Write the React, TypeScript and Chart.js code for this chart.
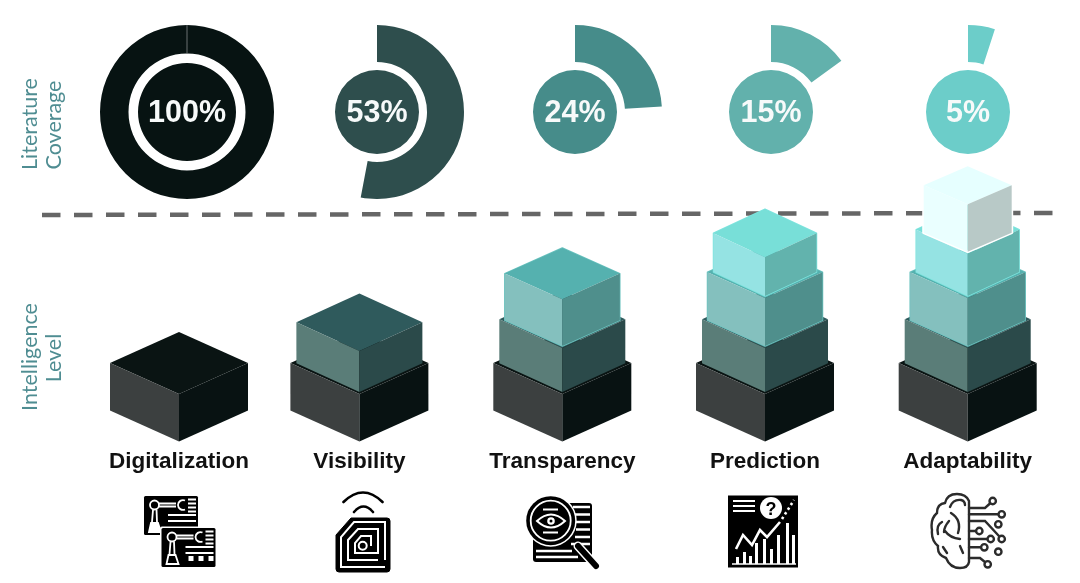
import React, { useEffect, useRef } from "react";
import { Chart, registerables } from "chart.js";

Chart.register(...registerables);

// ---------- data ----------
const categories = ["Digitalization", "Visibility", "Transparency", "Prediction", "Adaptability"];
const coverage = [100, 53, 24, 15, 5];
const level1Heights = [47.5, 47.5, 47.5, 47.5, 47.5];
const level2Heights = [null, 43, 46, 46, 46];
const level3Heights = [null, null, 48.7, 50, 50];
const level4Heights = [null, null, null, 40.7, 44.3];
const level5Heights = [null, null, null, null, 49.4];
const thresholdValues = [226.5, 228.5];

// ---------- layout and style ----------
const W = 1080;
const H = 583;
const BASE_Y = 441.5;
const gaugeCenters = [187, 376.7, 574.7, 771, 968];
const stackCenters = [179, 359.4, 562.3, 765, 967.7];
const thresholdX = [42, 1058];
const coverageColors = ["#071312", "#2e4e4d", "#468c8a", "#62b1ac", "#6ccdc9"];
const ringWeights = [
  [28.5, 9.5, 49],
  [37, 8, 42],
  [37, 8, 42],
  [37, 8, 42],
  [37, 8, 42],
];
const levelStyles = [
  { hw: 69, hd: 31, top: "#0a1413", left: "#3c4040", right: "#081212", stroke: "" },
  { hw: 63, hd: 28.7, top: "#2f5a5c", left: "#5a7d78", right: "#2b4a4a", stroke: "" },
  { hw: 57.5, hd: 25.7, top: "#55b1af", left: "#84c0be", right: "#4f8f8c", stroke: "#6cc4c0" },
  { hw: 51.5, hd: 24, top: "#78dfd8", left: "#95e3e3", right: "#62b3ad", stroke: "#7de4de" },
  { hw: 44, hd: 19, top: "#e6ffff", left: "#eaffff", right: "#b8c9c7", stroke: "#ffffff" },
];
const BLOCK_GAP = 2;
const allLevels = [level1Heights, level2Heights, level3Heights, level4Heights, level5Heights];
const sideTitles = [
  { text: "Literature", x: 30, y: 124 },
  { text: "Coverage", x: 54, y: 125 },
  { text: "Intelligence", x: 30, y: 357 },
  { text: "Level", x: 54, y: 358 },
];

function Gauge({ index }: { index: number }) {
  const ref = useRef<HTMLCanvasElement | null>(null);
  useEffect(() => {
    const pct = coverage[index];
    const color = coverageColors[index];
    const [ringW, gapW, coreW] = ringWeights[index];
    const labelPlugin = {
      id: "gaugeLabel",
      afterDatasetsDraw(chart: any) {
        const { ctx } = chart;
        const ring = chart.getDatasetMeta(0).data[0];
        ctx.save();
        if (pct === 100) {
          ctx.strokeStyle = "#6b7170";
          ctx.lineWidth = 1;
          ctx.beginPath();
          ctx.moveTo(ring.x, ring.y - ring.innerRadius);
          ctx.lineTo(ring.x, ring.y - ring.outerRadius);
          ctx.stroke();
        }
        ctx.fillStyle = "#f7fafa";
        ctx.font = 'bold 30.5px "Liberation Sans"';
        ctx.textAlign = "center";
        ctx.textBaseline = "middle";
        ctx.fillText(`${pct}%`, ring.x, ring.y + 1.5);
        ctx.restore();
      },
    };
    const chart = new Chart(ref.current as HTMLCanvasElement, {
      type: "doughnut",
      data: {
        labels: ["Covered", "Rest"],
        datasets: [
          { data: [pct, 100 - pct], backgroundColor: [color, "rgba(0,0,0,0)"], borderWidth: 0, weight: ringW } as any,
          { data: [100], backgroundColor: ["rgba(0,0,0,0)"], borderWidth: 0, weight: gapW } as any,
          { data: [100], backgroundColor: [color], borderWidth: 0, weight: coreW } as any,
        ],
      },
      options: {
        responsive: false,
        animation: false,
        cutout: 0,
        events: [],
        plugins: { legend: { display: false }, tooltip: { enabled: false } },
      } as any,
      plugins: [labelPlugin],
    });
    return () => chart.destroy();
  }, [index]);
  return (
    <canvas
      ref={ref}
      width={174}
      height={174}
      style={{ position: "absolute", left: gaugeCenters[index] - 87, top: 25, width: 174, height: 174 }}
    />
  );
}

function Stacks() {
  const ref = useRef<HTMLCanvasElement | null>(null);
  useEffect(() => {
    const isoPlugin = {
      id: "isoBlocks",
      afterDatasetsDraw(chart: any) {
        const { ctx } = chart;
        ctx.save();
        allLevels.forEach((_, level) => {
          const st = levelStyles[level];
          chart.getDatasetMeta(level + 1).data.forEach((el: any) => {
            const x = el.x;
            const ft = el.y;
            const fb = el.base - (level === 0 ? 0 : BLOCK_GAP);
            const poly = (pts: number[][], fill: string) => {
              ctx.beginPath();
              pts.forEach((p, i) => (i ? ctx.lineTo(p[0], p[1]) : ctx.moveTo(p[0], p[1])));
              ctx.closePath();
              ctx.fillStyle = fill;
              ctx.fill();
            };
            if (st.stroke) {
              ctx.beginPath();
              const o = [
                [x, ft - 2 * st.hd],
                [x + st.hw, ft - st.hd],
                [x + st.hw, fb - st.hd],
                [x, fb],
                [x - st.hw, fb - st.hd],
                [x - st.hw, ft - st.hd],
              ];
              o.forEach((p, i) => (i ? ctx.lineTo(p[0], p[1]) : ctx.moveTo(p[0], p[1])));
              ctx.closePath();
              ctx.strokeStyle = st.stroke;
              ctx.lineWidth = level === 4 ? 3 : 1.5;
              ctx.lineJoin = "round";
              ctx.stroke();
            }
            poly([[x, ft], [x + st.hw, ft - st.hd], [x, ft - 2 * st.hd], [x - st.hw, ft - st.hd]], st.top);
            poly([[x - st.hw, ft - st.hd], [x, ft], [x, fb], [x - st.hw, fb - st.hd]], st.left);
            poly([[x + st.hw, ft - st.hd], [x, ft], [x, fb], [x + st.hw, fb - st.hd]], st.right);
          });
        });
        ctx.fillStyle = "#4f8d92";
        ctx.font = '21.5px "Lato"';
        ctx.textAlign = "center";
        ctx.textBaseline = "middle";
        sideTitles.forEach((t) => {
          ctx.save();
          ctx.translate(t.x, t.y);
          ctx.rotate(-Math.PI / 2);
          ctx.fillText(t.text, 0, 0);
          ctx.restore();
        });
        ctx.restore();
      },
    };
    const chart = new Chart(ref.current as HTMLCanvasElement, {
      type: "bar",
      data: {
        datasets: [
          {
            type: "line",
            label: "Threshold",
            data: thresholdX.map((x, i) => ({ x, y: thresholdValues[i] })),
            borderColor: "#666666",
            borderWidth: 4.5,
            borderDash: [18.5, 13.5],
            pointRadius: 0,
            fill: false,
            order: 0,
          } as any,
          ...allLevels.map((vals, level) => ({
            label: `Level ${level + 1}`,
            data: vals
              .map((y, i) => ({ x: stackCenters[i], y }))
              .filter((d) => d.y !== null),
            backgroundColor: "rgba(0,0,0,0)",
            borderWidth: 0,
            barThickness: 1,
            stack: "levels",
          })),
        ],
      },
      options: {
        responsive: false,
        animation: false,
        events: [],
        layout: { padding: 0 },
        plugins: { legend: { display: false }, tooltip: { enabled: false } },
        scales: {
          x: {
            type: "linear",
            offset: false,
            min: 0,
            max: W,
            grid: { display: false, drawTicks: false, offset: false },
            border: { display: false },
            afterBuildTicks: (s: any) => {
              s.ticks = stackCenters.map((value) => ({ value }));
            },
            afterFit: (s: any) => {
              s.height = H - BASE_Y;
              s.paddingLeft = 0;
              s.paddingRight = 0;
            },
            ticks: {
              autoSkip: false,
              maxRotation: 0,
              minRotation: 0,
              padding: 7,
              color: "#111111",
              font: { family: '"Liberation Sans"', size: 22.5, weight: "bold" },
              callback: (v: any) => categories[stackCenters.indexOf(v)],
            },
          },
          y: {
            display: false,
            stacked: true,
            min: 0,
            max: BASE_Y,
          },
        },
      } as any,
      plugins: [isoPlugin],
    });
    return () => chart.destroy();
  }, []);
  return (
    <canvas ref={ref} width={W} height={H} style={{ position: "absolute", left: 0, top: 0, width: W, height: H }} />
  );
}

function RobotPanel({ x, y, h, extra }: { x: number; y: number; h: number; extra?: boolean }) {
  return (
    <g transform={`translate(${x} ${y})`}>
      <rect x={-1.5} y={-1.5} width={57} height={h + 3} rx={2} fill="#fff" />
      <rect x={0} y={0} width={54} height={h} rx={1.5} fill="#000" />
      <g stroke="#fff" fill="none" strokeWidth={1.8}>
        <circle cx={10.5} cy={9} r={4.5} />
        <path d="M15 7.5H32M15 10.5H32" />
        <path d="M41 4.5A5 5 0 0 0 34 9A5 5 0 0 0 41 13.5" />
        <path d="M9 14L8 26M12.5 13.5L13 26" />
        <path d="M5 36L7 27H14L17 36Z" fill={extra ? "none" : "#fff"} />
        <path d="M44 3.5H52M44 7.5H52M44 11.5H52M44 15.5H52" />
        <path d="M24 19H52M24 25H52" />
      </g>
      {extra && (
        <g fill="#fff">
          <rect x={27} y={28} width={5} height={5} />
          <rect x={37} y={28} width={5} height={5} />
          <rect x={47} y={28} width={5} height={5} />
        </g>
      )}
    </g>
  );
}

const chartBars = [
  [736, 557], [743, 552], [749, 556], [755, 543], [763, 539], [770, 549], [777, 535], [786, 523], [792, 535],
];
const circuitDots = [
  [992.7, 501], [1001.7, 514.3], [998.3, 524.3], [979.3, 531], [990.7, 539], [1001.7, 539], [984.3, 547.3], [998.3, 551.7], [987.7, 564.3],
];

function Icons() {
  return (
    <svg width={W} height={H} style={{ position: "absolute", left: 0, top: 0, filter: "blur(0.4px)" }}>
      {/* digitalization */}
      <RobotPanel x={144} y={496} h={39} />
      <RobotPanel x={161.5} y={528} h={39} extra />
      {/* visibility */}
      <path d="M351 518H387Q390 518 390 521V569Q390 572 387 572H339Q336 572 336 569V535Z" fill="#000" stroke="#000" strokeWidth={1} />
      <g fill="none" stroke="#fff" strokeWidth={2}>
        <path d="M385 567H341V537L354 522H385V560" />
        <path d="M378 560H348V540L358 529H378V553H355V543L361 536H371V546" />
        <circle cx={362.7} cy={545.7} r={4} />
      </g>
      <g fill="none" stroke="#000" strokeWidth={2.6} strokeLinecap="round">
        <path d="M343.5 502Q363 483 382.5 502" />
        <path d="M354 512Q363.5 501 373 512" />
      </g>
      {/* transparency */}
      <rect x={533} y={503} width={59} height={59} rx={3} fill="#000" />
      <g stroke="#fff" strokeWidth={2.4}>
        <path d="M573 507H590M575 514.5H590M576 522H590M576 529.5H590M575 537H590M571 544H590" />
        <path d="M536 551H572M536 557H578" />
      </g>
      <path d="M578 546L596 566" stroke="#fff" strokeWidth={9} strokeLinecap="round" />
      <path d="M578 546L596 566" stroke="#000" strokeWidth={6} strokeLinecap="round" />
      <circle cx={550.7} cy={520.7} r={26} fill="#fff" />
      <circle cx={550.7} cy={520.7} r={24.5} fill="#000" />
      <circle cx={550.7} cy={520.7} r={20} fill="none" stroke="#fff" strokeWidth={1.8} />
      <path d="M537 521Q551 508 565 521Q551 534 537 521Z" fill="none" stroke="#fff" strokeWidth={2} />
      <circle cx={551} cy={521} r={3.8} fill="#fff" />
      <circle cx={551} cy={521} r={1.5} fill="#000" />
      <path d="M543 509.5H558M543 532.5H558" stroke="#fff" strokeWidth={2} />
      {/* prediction */}
      <rect x={728} y={495.5} width={70} height={72} fill="#000" />
      <path d="M733 501H755M733 506H755M733 511H755" stroke="#fff" strokeWidth={1.8} />
      <circle cx={771} cy={508} r={11} fill="#fff" />
      <text x={771} y={514.5} textAnchor="middle" fontFamily="Liberation Sans" fontWeight="bold" fontSize={18} fill="#000">?</text>
      {chartBars.map(([x, y]) => (
        <rect key={x} x={x} y={y} width={3} height={564 - y} fill="#fff" />
      ))}
      <path d="M732 564H796" stroke="#fff" strokeWidth={1.5} />
      <path d="M736 549L743 535L752 545L760 530L767 537L780 522" fill="none" stroke="#fff" strokeWidth={2.6} />
      <path d="M782 519L794 500" fill="none" stroke="#fff" strokeWidth={2.6} strokeDasharray="2.5 3" />
      {/* adaptability */}
      <g fill="none" stroke="#2b2b2b" strokeWidth={2.4} strokeLinecap="round">
        <path d="M969 501Q966 494 957 494Q947 494 945 503Q937 504 937 513Q930 519 932 530Q931 540 938 546Q937 555 946 558Q950 568 960 568Q968 568 969 562Z" />
        <path d="M950 507Q953 499 961 500Q965 501 965 505" />
        <path d="M951 513Q962 520 958 533" />
        <path d="M942 522Q936 525 938 534M949 521Q944 527 944 532" />
        <path d="M945 531Q950 538 960 539" />
        <path d="M943 547L947 553M960 546L963 553" />
        <path d="M969 508H985L992.7 501M969 514.3H1001.7M969 521H985L1001.7 539M969 531H979.3M969 539H990.7M969 547.3H984.3M969 558H980L987.7 564.3" />
        {circuitDots.map(([cx, cy]) => (
          <circle key={`${cx}-${cy}`} cx={cx} cy={cy} r={3.2} fill="#fff" />
        ))}
      </g>
    </svg>
  );
}

export default function App() {
  return (
    <div style={{ position: "absolute", left: 0, top: 0, width: W, height: H, background: "#fff", overflow: "hidden" }}>
      <Icons />
      <Stacks />
      {categories.map((_, i) => (
        <Gauge key={i} index={i} />
      ))}
    </div>
  );
}
